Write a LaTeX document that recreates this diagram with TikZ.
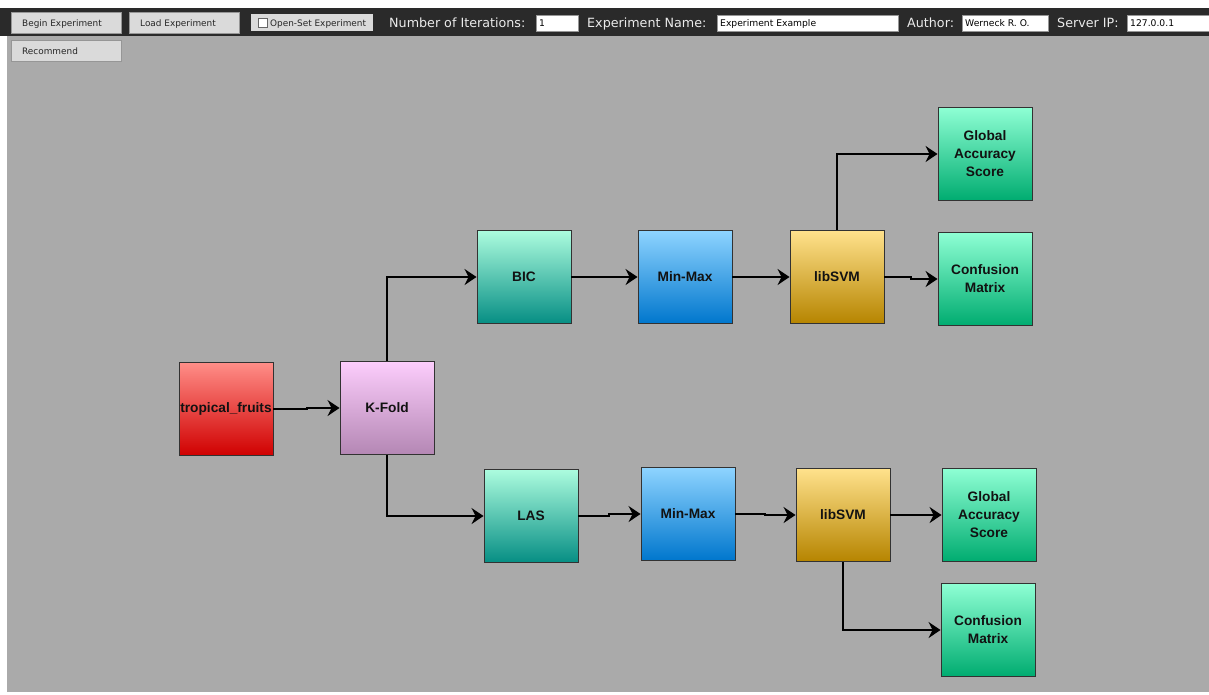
\documentclass[tikz,border=0pt]{standalone}
\usepackage{fontspec}
\setmainfont{Liberation Sans}
\newfontfamily\uifont{DejaVu Sans}
\usetikzlibrary{arrows.meta}

% window colours
\definecolor{canvasgray}{RGB}{170,170,170}
\definecolor{toolbar}{RGB}{42,42,42}
\definecolor{btnface}{RGB}{218,218,218}
\definecolor{btnedge}{RGB}{150,150,150}
\definecolor{boxedge}{RGB}{50,50,50}
% block gradients
\definecolor{srcTop}{RGB}{255,142,136}
\definecolor{srcBot}{RGB}{208,0,0}
\definecolor{kfTop}{RGB}{252,205,252}
\definecolor{kfBot}{RGB}{180,135,180}
\definecolor{selTop}{RGB}{172,252,222}
\definecolor{selBot}{RGB}{6,142,132}
\definecolor{normTop}{RGB}{142,212,255}
\definecolor{normBot}{RGB}{0,118,205}
\definecolor{clsTop}{RGB}{255,226,140}
\definecolor{clsBot}{RGB}{182,132,0}
\definecolor{outTop}{RGB}{142,255,212}
\definecolor{outBot}{RGB}{0,172,112}

\begin{document}
\begin{tikzpicture}[x=1pt,y=-1pt,
  block/.style={draw=boxedge, line width=0.9pt, minimum width=94pt, minimum height=93pt,
    inner sep=0pt, align=center, text=black!93,
    font=\bfseries\fontsize{13.7}{18}\selectfont},
  source/.style={block, top color=srcTop, bottom color=srcBot},
  splitter/.style={block, top color=kfTop, bottom color=kfBot},
  selector/.style={block, top color=selTop, bottom color=selBot},
  normalizer/.style={block, top color=normTop, bottom color=normBot},
  classifier/.style={block, top color=clsTop, bottom color=clsBot},
  evaluator/.style={block, top color=outTop, bottom color=outBot},
  conn/.style={draw=black, line width=2pt, -{Stealth[length=12pt,width=16pt,inset=4pt]}},
  btn/.style={fill=btnface, draw=btnedge, line width=0.8pt, anchor=north west, inner sep=0pt},
  btntext/.style={anchor=base west, inner sep=0pt,
    font=\uifont\fontsize{8.9}{10}\selectfont, text=black!85},
  field/.style={fill=white, draw=btnedge, line width=0.8pt, anchor=north west, inner sep=0pt},
  fieldtext/.style={anchor=base west, inner sep=0pt,
    font=\uifont\fontsize{9.2}{10}\selectfont, text=black},
  barlabel/.style={anchor=base west, inner sep=0pt, text=white!92!black,
    font=\uifont\fontsize{12.7}{14}\selectfont},
]
\useasboundingbox (0,0) rectangle (1209,694);
\fill[white] (0,0) rectangle (1209,694);
\fill[canvasgray] (7,36) rectangle (1209,692);
\fill[toolbar] (0,8) rectangle (1209,36);

% toolbar buttons
\node[btn, minimum width=110pt, minimum height=21pt] (begin) at (11,12) {};
\node[btntext] (begintext) at (22,26.3) {Begin Experiment};
\node[btn, minimum width=110pt, minimum height=21pt] (load) at (129,12) {};
\node[btntext] (loadtext) at (140,26.3) {Load Experiment};
\node[btn, minimum width=110pt, minimum height=21pt] (recommend) at (11,40) {};
\node[btntext] (rectext) at (22,54.3) {Recommend};

% open-set check box
\node[fill=btnface, anchor=north west, minimum width=122pt, minimum height=17pt, inner sep=0pt] (openset) at (251,14) {};
\node[fill=white, draw=black!60, line width=0.6pt, minimum size=9pt, inner sep=0pt] (check) at (262.5,23) {};
\node[btntext] (opentext) at (270,26.3) {Open-Set Experiment};

% toolbar fields
\node[barlabel] (iterlbl) at (389,27) {Number of Iterations:};
\node[field, minimum width=42pt, minimum height=16pt] (iterval) at (536,15) {};
\node[fieldtext] (itertext) at (539,26.5) {1};
\node[barlabel] (namelbl) at (587,27) {Experiment Name:};
\node[field, minimum width=181pt, minimum height=16pt] (nameval) at (717,15) {};
\node[fieldtext] (nametext) at (720,26.5) {Experiment Example};
\node[barlabel] (authlbl) at (907,27) {Author:};
\node[field, minimum width=86pt, minimum height=16pt] (authval) at (962,15) {};
\node[fieldtext] (authtext) at (965,26.5) {Werneck R. O.};
\node[barlabel] (iplbl) at (1057,27) {Server IP:};
\node[field, minimum width=90pt, minimum height=16pt] (ipval) at (1127,15) {};
\node[fieldtext] (iptext) at (1130,26.5) {127.0.0.1};

% pipeline blocks
\node[source] (tf) at (226,409) {tropical\_fruits};
\node[splitter] (kf) at (387,408) {K-Fold};

\node[selector] (bic) at (524,277) {BIC};
\node[normalizer] (mmA) at (685,277) {Min-Max};
\node[classifier] (svmA) at (837,277) {libSVM};
\node[evaluator] (gasA) at (985,154) {Global\\Accuracy\\Score};
\node[evaluator] (cmA) at (985,279) {Confusion\\Matrix};

\node[selector] (las) at (531,516) {LAS};
\node[normalizer] (mmB) at (688,514) {Min-Max};
\node[classifier] (svmB) at (843,515) {libSVM};
\node[evaluator] (gasB) at (989,515) {Global\\Accuracy\\Score};
\node[evaluator] (cmB) at (988,630) {Confusion\\Matrix};

% connectors
\draw[conn] (tf.east) -- ++(34,0) |- (kf.west);
\draw[conn] (kf.north) |- (bic.west);
\draw[conn] (kf.south) |- (las.west);

\draw[conn] (bic) -- (mmA);
\draw[conn] (mmA) -- (svmA);
\draw[conn] (svmA.north) |- (gasA.west);
\draw[conn] (svmA.east) -- ++(27,0) |- (cmA.west);

\draw[conn] (las.east) -- ++(31,0) |- (mmB.west);
\draw[conn] (mmB.east) -- ++(30,0) |- (svmB.west);
\draw[conn] (svmB.east) -- ++(24,0) |- (gasB.west);
\draw[conn] (svmB.south) |- (cmB.west);
\end{tikzpicture}
\end{document}
